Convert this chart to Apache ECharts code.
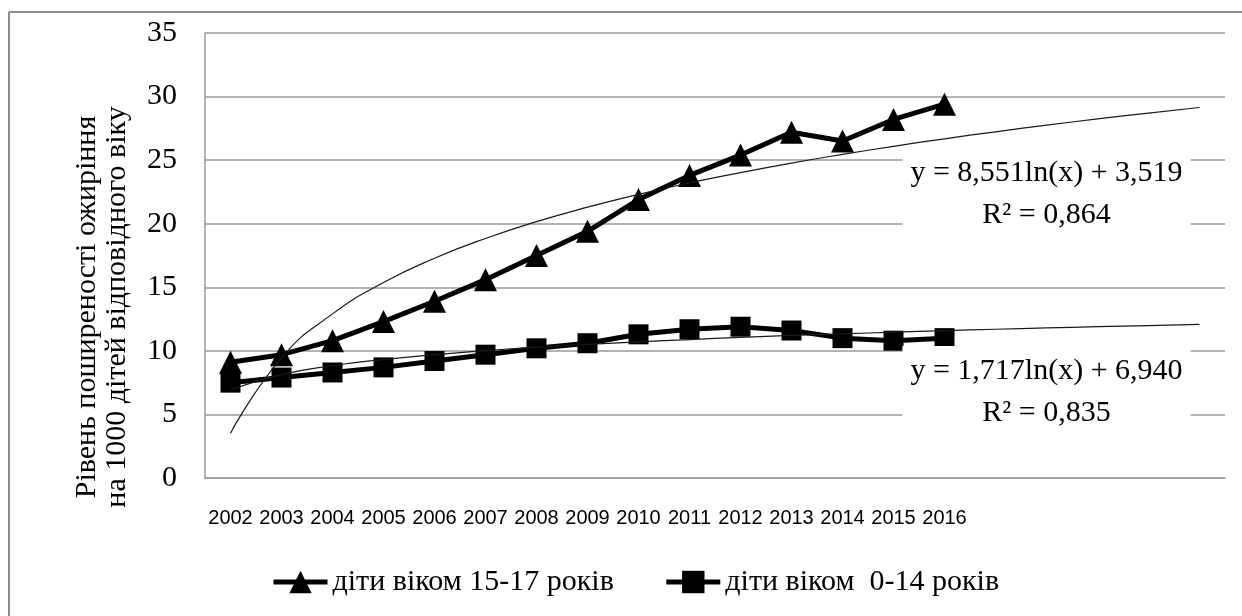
<!DOCTYPE html>
<html>
<head>
<meta charset="utf-8">
<script src="https://cdn.jsdelivr.net/npm/echarts@6/dist/echarts.min.js"></script>
<style>
html,body{margin:0;padding:0;background:#fff;}
#chart{width:1242px;height:616px;}
</style>
</head>
<body>
<div id="chart"></div>
<script>
// ---- data ----
const yearLabels = ['2002','2003','2004','2005','2006','2007','2008','2009','2010','2011','2012','2013','2014','2015','2016'];
const forecastSlots = ['2017','2018','2019','2020','2021'];
const teens = [9.1, 9.7, 10.8, 12.3, 13.9, 15.6, 17.5, 19.4, 21.9, 23.8, 25.4, 27.2, 26.5, 28.2, 29.4];
const kids = [7.5, 7.9, 8.3, 8.7, 9.2, 9.7, 10.2, 10.6, 11.3, 11.7, 11.9, 11.6, 11.0, 10.8, 11.0];
const teensTrend = [3.52, 9.45, 12.91, 15.37, 17.28, 18.84, 20.16, 21.30, 22.31, 23.21, 24.02, 24.77, 25.45, 26.09, 26.68, 27.23, 27.75, 28.24, 28.70, 29.14];
const kidsTrend = [6.94, 8.13, 8.83, 9.32, 9.70, 10.02, 10.28, 10.51, 10.71, 10.89, 11.06, 11.21, 11.34, 11.47, 11.59, 11.70, 11.80, 11.90, 11.99, 12.08];
const yTicks = [0, 5, 10, 15, 20, 25, 30, 35];
const seriesNames = ['діти віком 15-17 років', 'діти віком  0-14 років'];
const teensEquation = 'y = 8,551ln(x) + 3,519\nR² = 0,864';
const kidsEquation = 'y = 1,717ln(x) + 6,940\nR² = 0,835';
const yTitle = 'Рівень поширеності ожиріння\nна 1000 дітей відповідного віку';

const SERIF = '"Liberation Serif", "Times New Roman", serif';
const SANS = '"Liberation Sans", Arial, sans-serif';
const GRID_GRAY = '#9a9a9a';

const chart = echarts.init(document.getElementById('chart'), null, {renderer: 'canvas'});

const eqLabel = (text) => ({
  show: true,
  position: 'inside',
  formatter: text,
  color: '#000',
  fontFamily: SERIF,
  fontSize: 30,
  lineHeight: 42,
  align: 'center',
  verticalAlign: 'middle',
  backgroundColor: '#fff',
  padding: [4, 8]
});

chart.setOption({
  animation: false,
  backgroundColor: '#fff',
  grid: {left: 205, right: 17, top: 33, bottom: 138, containLabel: false},
  xAxis: {
    type: 'category',
    data: yearLabels.concat(forecastSlots),
    boundaryGap: true,
    axisLine: {show: true, lineStyle: {color: GRID_GRAY, width: 1.5}},
    axisTick: {show: false},
    axisLabel: {
      interval: 0,
      margin: 30,
      color: '#000',
      fontFamily: SANS,
      fontSize: 20,
      formatter: (v) => yearLabels.indexOf(v) >= 0 ? v : ''
    },
    splitLine: {show: false}
  },
  yAxis: {
    type: 'value',
    min: yTicks[0],
    max: yTicks[yTicks.length - 1],
    interval: 5,
    axisLine: {show: true, lineStyle: {color: GRID_GRAY, width: 1.5}},
    axisTick: {show: false},
    axisLabel: {color: '#000', fontFamily: SERIF, fontSize: 30, margin: 28},
    splitLine: {show: true, lineStyle: {color: GRID_GRAY, width: 1.5}}
  },
  legend: {
    data: seriesNames,
    left: 266,
    top: 562,
    itemWidth: 54,
    itemHeight: 28,
    itemGap: 50,
    lineStyle: {width: 5, color: '#000'},
    itemStyle: {color: '#000'},
    textStyle: {color: '#000', fontFamily: SERIF, fontSize: 30}
  },
  graphic: [
    {type: 'line', shape: {x1: 9, y1: 12, x2: 1242, y2: 12}, style: {stroke: '#8c8c8c', lineWidth: 2}, silent: true},
    {type: 'line', shape: {x1: 9, y1: 12, x2: 9, y2: 616}, style: {stroke: '#8c8c8c', lineWidth: 2}, silent: true},
    {
      type: 'text',
      x: 102, y: 307,
      rotation: Math.PI / 2,
      style: {
        text: yTitle,
        fill: '#000',
        font: '30px "Liberation Serif", serif',
        lineHeight: 30,
        align: 'center',
        verticalAlign: 'middle'
      },
      silent: true
    }
  ],
  series: [
    {
      name: 'trend15',
      type: 'line',
      data: teensTrend,
      symbol: 'none',
      smooth: true,
      lineStyle: {color: '#1a1a1a', width: 1.2},
      z: 3,
      silent: true,
      markPoint: {
        symbol: 'rect',
        symbolSize: 0,
        silent: true,
        data: [{coord: [16.2, 22.35], label: eqLabel(teensEquation)}]
      }
    },
    {
      name: 'trend0',
      type: 'line',
      data: kidsTrend,
      symbol: 'none',
      smooth: true,
      lineStyle: {color: '#1a1a1a', width: 1.2},
      z: 3,
      silent: true,
      markPoint: {
        symbol: 'rect',
        symbolSize: 0,
        silent: true,
        data: [{coord: [16.2, 6.77], label: eqLabel(kidsEquation)}]
      }
    },
    {
      name: seriesNames[0],
      type: 'line',
      data: teens,
      symbol: 'triangle',
      symbolSize: 23,
      showAllSymbol: true,
      itemStyle: {color: '#000'},
      lineStyle: {color: '#000', width: 5},
      z: 2
    },
    {
      name: seriesNames[1],
      type: 'line',
      data: kids,
      symbol: 'rect',
      symbolSize: 20,
      showAllSymbol: true,
      itemStyle: {color: '#000'},
      lineStyle: {color: '#000', width: 5},
      z: 2
    }
  ]
});
</script>
</body>
</html>
